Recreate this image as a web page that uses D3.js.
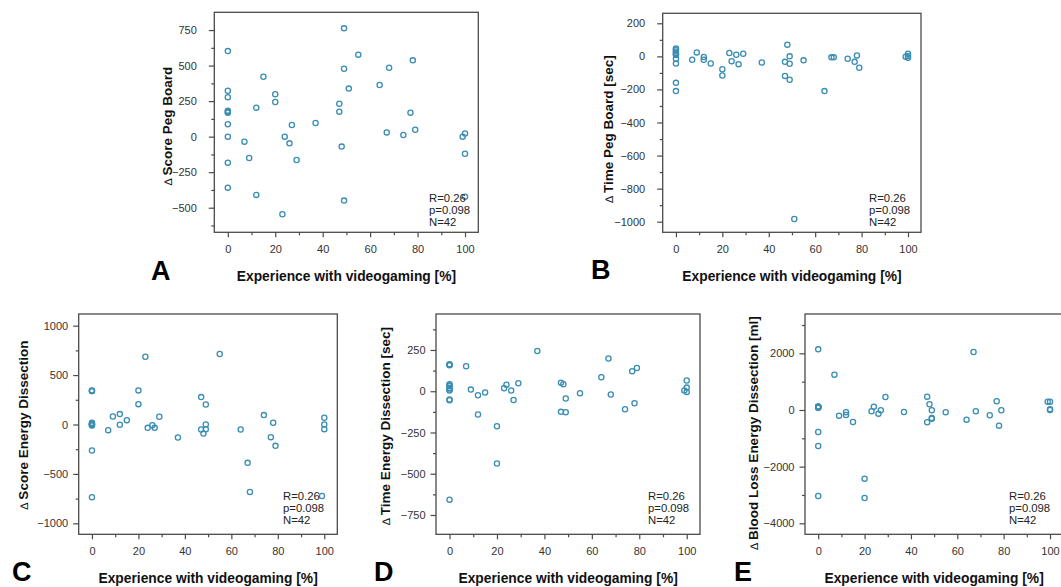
<!DOCTYPE html>
<html>
<head>
<meta charset="utf-8">
<script src="https://cdnjs.cloudflare.com/ajax/libs/d3/7.8.5/d3.min.js"></script>
<style>
  body { margin: 0; background: #fff; }
  svg { display: block; font-family: "Liberation Sans", Arial, sans-serif; }
</style>
</head>
<body>
<div id="fig"></div>
<script>

// x = experience with videogaming [%], y = delta per task
var pegScore = [[0,602],[0,323],[0,277],[0,183],[0,169],[0,176],[0,87],[0,0],[0,-183],[0,-359],
  [7,-35],[9,-150],[12,204],[12,-410],[15,422],[20,298],[20,244],[23,-546],[24,0],[26,-47],
  [27,82],[29,-164],[37,96],[47,232],[47,176],[48,-70],[49,762],[49,478],[49,-450],[51,338],
  [55,577],[64,363],[67,30],[68,485],[74,12],[77,169],[78,537],[79,49],[99,0],[100,23],[100,-120],[100,-422]];

var pegTime = [[0,48],[0,40],[0,30],[0,20],[0,8],[0,-14],[0,-43],[0,-160],[0,-210],[0,14],
  [7,-20],[9,24],[12,-4],[12,-20],[15,-43],[20,-78],[20,-116],[23,20],[24,-29],[26,10],
  [27,-47],[29,16],[37,-37],[47,-33],[47,-118],[48,71],[49,0],[49,-45],[49,-141],[51,-984],
  [55,-24],[64,-210],[67,-6],[68,-6],[74,-14],[77,-33],[78,6],[79,-69],[99,-2],[100,16],[100,-8],[100,3]];

var energyScore = [[0,345],[0,338],[0,17],[0,8],[0,0],[0,-5],[0,-10],[0,-263],[0,-736],[0,340],[0,3],
  [7,-57],[9,81],[12,105],[12,-3],[15,44],[20,345],[20,206],[23,686],[24,-34],[26,-7],
  [27,-34],[29,78],[37,-132],[47,277],[47,-51],[48,-91],[49,203],[49,0],[49,-47],[55,713],
  [64,-51],[67,-388],[68,-682],[74,95],[77,-128],[78,17],[79,-216],[99,-723],[100,68],[100,0],[100,-47]];

var energyTime = [[0,164],[0,158],[0,42],[0,30],[0,20],[0,4],[0,-55],[0,-657],[0,160],[0,36],[0,10],[0,-50],
  [7,151],[9,10],[12,-24],[12,-141],[15,-8],[20,-212],[20,-438],[23,18],[24,40],[26,4],
  [27,-53],[29,48],[37,244],[47,52],[47,-125],[48,42],[49,-44],[49,-127],[55,-12],[64,85],
  [67,198],[68,-20],[74,-109],[77,121],[78,-73],[79,141],[99,4],[100,65],[100,22],[100,-4]];

var energyBlood = [[0,2141],[0,118],[0,82],[0,-776],[0,-1270],[0,-3034],[0,100],[0,110],[0,90],[0,120],[0,95],
  [7,1247],[9,-200],[12,-82],[12,-176],[15,-423],[20,-2423],[20,-3105],[23,-47],[24,118],[26,-129],
  [27,-12],[29,459],[37,-71],[47,470],[47,-435],[48,200],[49,-12],[49,-282],[49,-306],[55,-82],
  [64,-341],[67,2046],[68,-47],[74,-188],[77,306],[78,-553],[79,-12],[99,294],[100,294],[100,24],[100,0]];

var xTicks = [0, 20, 40, 60, 80, 100];
var xMinor = [10, 30, 50, 70, 90];
var statLines = ['R=0.26', 'p=0.098', 'N=42'];
var xTitle = 'Experience with videogaming [%]';

// layout of each panel (frame in pixels + y axis setup)
var panels = [
  { letter: 'A', title: 'Score Peg Board', data: pegScore,
    box: [214.3, 12.3, 478.3, 232.3], yDom: [-673, 875], yStep: 250, yLab: [167, 126], pad: 12,
    letterPos: [151, 280], xTitleY: 281, statX: 429, statY: 201.5 },
  { letter: 'B', title: 'Time Peg Board [sec]', data: pegTime,
    box: [662.7, 13.3, 921, 232.3], yDom: [-1064, 260.5], yStep: 200, yLab: [608, 129], pad: 12,
    letterPos: [591, 279], xTitleY: 281, statX: 869, statY: 201.5 },
  { letter: 'C', title: 'Score Energy Dissection', data: energyScore,
    box: [78.7, 314, 337.3, 534.3], yDom: [-1111, 1118], yStep: 500, yLab: [23, 425], pad: 5,
    letterPos: [12, 580.5], xTitleY: 583, statX: 283, statY: 500 },
  { letter: 'D', title: 'Time Energy Dissection [sec]', data: energyTime,
    box: [436, 314, 700, 534.3], yDom: [-867, 468], yStep: 250, yLab: [385, 426], pad: 5,
    letterPos: [374, 580.5], xTitleY: 583, statX: 648, statY: 500 },
  { letter: 'E', title: 'Blood Loss Energy Dissection [ml]', data: energyBlood,
    box: [805, 314, 1063, 534.3], yDom: [-4388, 3388], yStep: 2000, yLab: [753, 433], pad: 5,
    letterPos: [734, 580.5], xTitleY: 583, statX: 1009, statY: 500 }
];

var width = 1061,
    height = 587;

var svg = d3.select('#fig').append('svg')
  .attr('width', width)
  .attr('height', height);

var frameColor = '#4a4a4a',
    dotColor = '#3a8db3';

var drawPanel = (p) => {
  var x0 = p.box[0], y0 = p.box[1], x1 = p.box[2], y1 = p.box[3];

  var x = d3.scaleLinear().domain([-5.7, 105.6]).range([x0, x1]),
      y = d3.scaleLinear().domain(p.yDom).range([y1, y0]);

  var g = svg.append('g');

  // major / minor y ticks
  var yMajor = d3.range(Math.ceil(p.yDom[0] / p.yStep) * p.yStep, p.yDom[1], p.yStep);
  var yMinor = d3.range(Math.ceil(p.yDom[0] / (p.yStep / 2)) * (p.yStep / 2), p.yDom[1], p.yStep / 2)
    .filter(function(v) { return yMajor.indexOf(v) < 0; });

  g.append('g')
    .attr('transform', 'translate(' + x0 + ',0)')
    .call(d3.axisLeft(y).tickValues(yMajor).tickSize(5.5).tickPadding(p.pad).tickFormat(d3.format('d')));
  g.append('g')
    .attr('transform', 'translate(' + x0 + ',0)')
    .call(d3.axisLeft(y).tickValues(yMinor).tickSize(3).tickFormat(''));

  g.append('g')
    .attr('transform', 'translate(0,' + y1 + ')')
    .call(d3.axisBottom(x).tickValues(xTicks).tickSize(5).tickPadding(8));
  g.append('g')
    .attr('transform', 'translate(0,' + y1 + ')')
    .call(d3.axisBottom(x).tickValues(xMinor).tickSize(3).tickFormat(''));

  g.selectAll('.domain').remove();
  g.selectAll('.tick line').attr('stroke', frameColor).attr('stroke-width', 1.2);
  g.selectAll('.tick text')
    .attr('fill', '#333')
    .style('font-size', '11px');

  // frame
  g.append('rect')
    .attr('x', x0).attr('y', y0)
    .attr('width', x1 - x0).attr('height', y1 - y0)
    .attr('fill', 'none')
    .attr('stroke', frameColor)
    .attr('stroke-width', 1.3);

  // points
  g.selectAll('circle')
    .data(p.data)
    .enter()
    .append('circle')
    .attr('cx', function(d) { return x(d[0]); })
    .attr('cy', function(d) { return y(d[1]); })
    .attr('r', 2.6)
    .attr('fill', 'none')
    .attr('stroke', dotColor)
    .attr('stroke-width', 1.3);

  // stats
  g.append('text')
    .attr('x', p.statX).attr('y', p.statY)
    .style('font-size', '11.3px')
    .attr('fill', '#222')
    .selectAll('tspan')
    .data(statLines)
    .enter()
    .append('tspan')
    .attr('x', p.statX)
    .attr('dy', function(d, i) { return i ? 12 : 0; })
    .text(function(d) { return d; });

  // y title
  var yt = g.append('text')
    .attr('transform', 'translate(' + p.yLab[0] + ',' + p.yLab[1] + ') rotate(-90)')
    .attr('text-anchor', 'middle')
    .attr('dy', '0.35em')
    .style('font-size', '13.5px')
    .attr('fill', '#111');
  yt.append('tspan').style('font-weight', 'normal').style('font-size', '11px').text('\u2206 ');
  yt.append('tspan').style('font-weight', 'bold').text(p.title);

  // x title
  g.append('text')
    .attr('x', (x(0) + x(100)) / 2)
    .attr('y', p.xTitleY)
    .attr('text-anchor', 'middle')
    .style('font-size', '13.8px')
    .style('font-weight', 'bold')
    .attr('fill', '#111')
    .text(xTitle);

  // panel letter
  g.append('text')
    .attr('x', p.letterPos[0]).attr('y', p.letterPos[1])
    .style('font-size', '27px')
    .style('font-weight', 'bold')
    .attr('fill', '#000')
    .text(p.letter);
};

panels.forEach(drawPanel);

</script>
</body>
</html>
